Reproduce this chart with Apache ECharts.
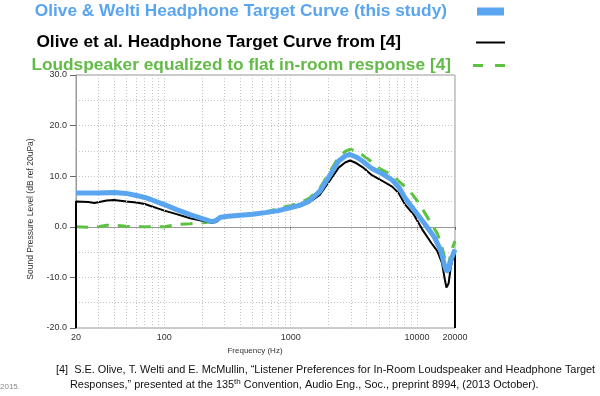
<!DOCTYPE html>
<html>
<head>
<meta charset="utf-8">
<script src="https://cdn.jsdelivr.net/npm/echarts@6/dist/echarts.min.js"></script>
<style>
html, body { margin: 0; padding: 0; background: #fff; }
#main { width: 600px; height: 396px; }
</style>
</head>
<body>
<div id="main"></div>
<script>
// series names (legend text)
var names = [
    'Olive & Welti Headphone Target Curve (this study)',
    'Olive et al. Headphone Target Curve from [4]',
    'Loudspeaker equalized to flat in-room response [4]'
];

// Olive & Welti target (blue)
var blueHz = [20, 25, 30, 40, 50, 60, 70, 80, 100, 125, 160, 200, 230, 250, 280, 320, 400, 500, 630, 800, 1000, 1200, 1400, 1700, 2000, 2400, 2700, 2950, 3300, 3700, 4400, 5300, 6400, 7200, 8000, 9500, 11500, 13700, 15500, 16500, 17100, 17800, 18600, 20000];
var blueDb = [6.7, 6.7, 6.7, 6.8, 6.6, 6.2, 5.8, 5.3, 4.4, 3.4, 2.4, 1.6, 1.1, 1.1, 1.9, 2.1, 2.3, 2.5, 2.8, 3.2, 3.8, 4.3, 5.1, 7.0, 9.8, 13.0, 14.0, 14.3, 13.8, 13.0, 11.5, 10.5, 9.2, 7.8, 5.8, 3.3, 0.6, -2.0, -4.8, -7.6, -8.8, -8.5, -6.5, -4.5];

// Olive et al. target (black)
var blackHz = [20, 20, 25, 28, 35, 40, 50, 60, 70, 80, 90, 100, 125, 160, 200, 240, 260, 280, 320, 400, 500, 630, 800, 1000, 1200, 1400, 1700, 2000, 2400, 2700, 2950, 3300, 3700, 4400, 5300, 6400, 7200, 8000, 9500, 11000, 13000, 14500, 15800, 16500, 17100, 17800, 18500, 19500, 20000, 20000];
var blackDb = [-20, 5.0, 4.9, 4.7, 5.2, 5.3, 5.0, 4.8, 4.5, 4.0, 3.6, 3.2, 2.5, 1.7, 1.2, 0.8, 1.0, 1.8, 2.0, 2.2, 2.4, 2.7, 3.1, 3.6, 4.1, 4.8, 6.3, 8.8, 11.7, 12.7, 13.1, 12.6, 11.8, 10.2, 9.1, 7.9, 6.6, 4.5, 2.3, -0.5, -3.2, -4.8, -7.2, -10.0, -12.0, -11.2, -8.0, -5.5, -5.0, -20];

// loudspeaker flat in-room (green dashed)
var greenHz = [20, 25, 30, 35, 40, 50, 60, 80, 100, 130, 160, 200, 240, 280, 320, 400, 500, 630, 800, 1000, 1200, 1400, 1700, 2000, 2400, 2700, 2950, 3300, 3700, 4400, 5000, 5600, 6400, 7200, 8000, 8700, 9500, 10500, 11500, 13000, 14600, 16000, 17000, 17500, 18300, 19200, 20000];
var greenDb = [0.0, -0.1, 0.0, 0.3, 0.3, 0.1, 0.0, 0.0, 0.0, 0.5, 0.6, 0.8, 1.0, 1.8, 2.1, 2.3, 2.5, 2.9, 3.6, 4.2, 4.8, 5.6, 7.6, 10.5, 13.8, 14.9, 15.3, 15.0, 14.2, 12.8, 11.6, 10.9, 10.2, 9.0, 8.0, 7.2, 5.9, 4.5, 2.8, 0.6, -1.5, -4.6, -7.4, -8.1, -6.0, -4.0, -2.8];

// dotted frequency grid lines
var gridHz = [30, 40, 50, 60, 70, 80, 90, 100, 200, 300, 400, 500, 600, 700, 800, 900, 1000, 2000, 3000, 4000, 5000, 6000, 7000, 8000, 9000, 10000];

var refLine1 = '[4]  S.E. Olive, T. Welti and E. McMullin, \u201cListener Preferences for In-Room Loudspeaker and Headphone Target';
var refLine2a = 'Responses,\u201d presented at the 135';
var refLine2b = ' Convention, Audio Eng., Soc., preprint 8994, (2013 October).';

function pairs(xs, ys) {
    var out = [];
    for (var i = 0; i < xs.length; i++) {
        out.push([xs[i], ys[i]]);
    }
    return out;
}

var FONT = 'Liberation Sans';
var BLUE = '#59a5ef';
var GREEN = '#5cc23f';

// legend row anchored on the icon's right edge; padding keeps the gap to the text
function legendRow(name, right, top, gap, color, icon, iw, ih) {
    return {
        right: right, top: top, padding: 0, align: 'right', selectedMode: false,
        itemWidth: iw, itemHeight: ih,
        textStyle: {
            fontSize: 17.3, fontWeight: 'bold', fontFamily: FONT, color: color,
            padding: [0, gap, 0, 0]
        },
        data: [{ name: name, icon: icon }]
    };
}

var myChart = echarts.init(document.getElementById('main'));

var option = {
    animation: false,
    title: [
        {
            text: refLine1, left: 56, top: 364, padding: 0,
            textStyle: { fontSize: 10.9, fontWeight: 'normal', color: '#111', fontFamily: FONT }
        },
        {
            text: '{a|' + refLine2a + '}{s|th}{a|' + refLine2b + '}', left: 70, top: 378, padding: 0,
            textStyle: {
                fontWeight: 'normal',
                rich: {
                    a: { fontSize: 10.9, fontWeight: 'normal', color: '#111', fontFamily: FONT },
                    s: { fontSize: 8, fontWeight: 'normal', color: '#111', fontFamily: FONT, verticalAlign: 'top', padding: [0, 0, 6, 0] }
                }
            }
        },
        {
            text: '2015.', left: 0, top: 383, padding: 0,
            textStyle: { fontSize: 8, fontWeight: 'normal', color: '#888', fontFamily: FONT }
        }
    ],
    legend: [
        legendRow(names[0], 96, 3, 25, BLUE, 'rect', 27, 8),
        legendRow(names[1], 95, 34, 70, '#000', 'rect', 29, 2),
        legendRow(names[2], 95, 57, 17, '#62bb46', 'path://M0,0H10V3H0Z M22,0H32V3H22Z', 32, 3)
    ],
    grid: {
        left: 76, right: 145, top: 75, bottom: 68,
        show: true, borderColor: '#999', borderWidth: 1
    },
    xAxis: {
        type: 'log',
        logBase: 10,
        min: 20,
        max: 20000,
        name: 'Frequency (Hz)',
        nameLocation: 'middle',
        nameGap: 3,
        nameTextStyle: { fontSize: 8, color: '#333', fontFamily: FONT, padding: [0, 21, 0, 0] },
        axisLine: { lineStyle: { color: '#999' } },
        axisTick: { show: true, length: 3, lineStyle: { color: '#666' } },
        axisLabel: {
            fontSize: 9, color: '#333', fontFamily: FONT, margin: 5,
            formatter: function (v) { return String(Math.round(v)); }
        },
        splitLine: { show: false }
    },
    yAxis: {
        type: 'value',
        min: -20,
        max: 30,
        interval: 10,
        name: 'Sound Pressure Level (dB ref 20uPa)',
        nameLocation: 'middle',
        nameRotate: 90,
        nameGap: 39,
        nameTextStyle: { fontSize: 8.5, color: '#333', fontFamily: FONT, padding: [0, 15, 0, 0] },
        axisLine: { show: true, lineStyle: { color: '#999' } },
        axisTick: { show: true, length: 6, lineStyle: { color: '#666' } },
        axisLabel: {
            fontSize: 9, color: '#333', fontFamily: FONT, margin: 9,
            formatter: function (v) { return v.toFixed(1); }
        },
        splitLine: { show: true, lineStyle: { color: '#c4c4c4', type: [1, 2] } },
        minorTick: { show: false, splitNumber: 2 },
        minorSplitLine: { show: true, lineStyle: { color: '#c4c4c4', type: [1, 2] } }
    },
    series: [
        {
            type: 'line',
            data: [],
            silent: true,
            z: 1,
            markLine: {
                silent: true,
                symbol: 'none',
                label: { show: false },
                lineStyle: { color: '#c4c4c4', type: [1, 2], width: 1 },
                data: gridHz.map(function (f) { return { xAxis: f }; })
            }
        },
        {
            type: 'line',
            name: names[2],
            data: pairs(greenHz, greenDb),
            symbol: 'none',
            clip: false,
            z: 3,
            itemStyle: { color: GREEN },
            lineStyle: { color: GREEN, width: 3, type: [12, 9] }
        },
        {
            type: 'line',
            name: names[1],
            data: pairs(blackHz, blackDb),
            symbol: 'none',
            clip: false,
            z: 4,
            itemStyle: { color: '#000' },
            lineStyle: { color: '#000', width: 2 }
        },
        {
            type: 'line',
            name: names[0],
            data: pairs(blueHz, blueDb),
            symbol: 'none',
            clip: false,
            z: 5,
            itemStyle: { color: BLUE },
            lineStyle: { color: BLUE, width: 5 }
        }
    ]
};
myChart.setOption(option);
</script>
</body>
</html>
